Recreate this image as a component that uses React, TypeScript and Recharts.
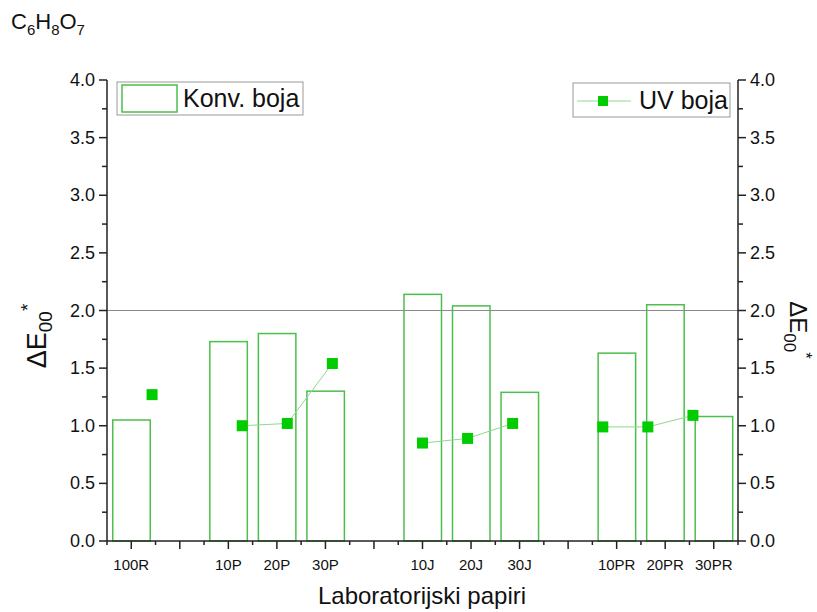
import { ComposedChart, Bar, Line, XAxis, YAxis, ReferenceLine } from "recharts";

const categories = ["100R", "", "10P", "20P", "30P", "", "10J", "20J", "30J", "", "10PR", "20PR", "30PR"];
const konvBoja = [1.05, null, 1.73, 1.8, 1.3, null, 2.14, 2.04, 1.29, null, 1.63, 2.05, 1.08];
const uvBoja = [1.27, null, 1.0, 1.02, 1.54, null, 0.85, 0.89, 1.02, null, 0.99, 0.99, 1.09];

const yTicks = [0, 0.25, 0.5, 0.75, 1, 1.25, 1.5, 1.75, 2, 2.25, 2.5, 2.75, 3, 3.25, 3.5, 3.75, 4];
const xTicks = [
  -0.5, 0, 0.5, 1, 1.5, 2, 2.5, 3, 3.5, 4, 4.5, 5, 5.5, 6, 6.5,
  7, 7.5, 8, 8.5, 9, 9.5, 10, 10.5, 11, 11.5, 12, 12.5,
];

const data = categories.map((name, i) => ({ i, name, konv: konvBoja[i], uv: uvBoja[i] }));

const FONT = "'Liberation Sans', Arial, sans-serif";
const BAR_GREEN = "#4cbf4c";
const DOT_GREEN = "#00cc00";
const LINE_GREEN = "#8fd88f";
const AXIS = "#222";

const YTick = (props: any) => {
  const { x, y, payload, side } = props;
  const major = Math.abs(payload.value * 2 - Math.round(payload.value * 2)) < 1e-6;
  const len = major ? 8 : 5;
  const dir = side === "left" ? -1 : 1;
  return (
    <g>
      <line x1={x} x2={x + dir * len} y1={y} y2={y} stroke={AXIS} strokeWidth={1.5} />
      {major && (
        <text
          x={x + dir * (len + 4)}
          y={y}
          dy={6}
          textAnchor={side === "left" ? "end" : "start"}
          fontSize={18}
          fontFamily={FONT}
          fill="#111"
        >
          {payload.value.toFixed(1)}
        </text>
      )}
    </g>
  );
};

const XTick = (props: any) => {
  const { x, y, payload } = props;
  const major = Number.isInteger(payload.value);
  const len = major ? 8 : 4;
  return (
    <g>
      <line x1={x} x2={x} y1={y} y2={y + len} stroke={AXIS} strokeWidth={1.5} />
      {major && (
        <text x={x} y={y + 29} textAnchor="middle" fontSize={15} fontFamily={FONT} fill="#111">
          {categories[payload.value]}
        </text>
      )}
    </g>
  );
};

const BarOutline = (props: any) => {
  const { x, y, width, height, payload } = props;
  if (payload == null || payload.konv == null || !height) return <g />;
  return (
    <rect x={x + 0.75} y={y} width={width - 1.5} height={height} fill="none" stroke={BAR_GREEN} strokeWidth={1.5} />
  );
};

const SquareDot = (props: any) => {
  const { cx, cy, value, index } = props;
  if (cx == null || cy == null || value == null) return <g key={`d-${index}`} />;
  return <rect key={`d-${index}`} x={cx - 5.5} y={cy - 5.5} width={11} height={11} fill={DOT_GREEN} />;
};

export default function App() {
  return (
    <div style={{ position: "absolute", left: 0, top: 0, width: 817, height: 612, background: "#fff" }}>
      <ComposedChart
        width={817}
        height={612}
        data={data}
        margin={{ top: 80, right: 19, bottom: 41, left: 47 }}
      >
        <XAxis
          xAxisId="main"
          dataKey="i"
          type="number"
          domain={[-0.5, 12.5]}
          ticks={xTicks}
          interval={0}
          tickSize={0}
          tickMargin={0}
          tickLine={false}
          tick={<XTick />}
          axisLine={{ stroke: AXIS, strokeWidth: 1.5 }}
          height={30}
        />
        <XAxis xAxisId="uv" dataKey="i" type="number" domain={[-1, 13]} hide />
        <YAxis
          yAxisId="left"
          type="number"
          domain={[0, 4]}
          ticks={yTicks}
          interval={0}
          tickSize={0}
          tickMargin={0}
          tickLine={false}
          tick={(p: any) => <YTick {...p} side="left" />}
          axisLine={{ stroke: AXIS, strokeWidth: 1.5 }}
          width={60}
        />
        <YAxis
          yAxisId="right"
          orientation="right"
          type="number"
          domain={[0, 4]}
          ticks={yTicks}
          interval={0}
          tickSize={0}
          tickMargin={0}
          tickLine={false}
          tick={(p: any) => <YTick {...p} side="right" />}
          axisLine={{ stroke: AXIS, strokeWidth: 1.5 }}
          width={60}
        />
        <ReferenceLine yAxisId="left" xAxisId="main" y={2} stroke="#8a8a8a" strokeWidth={1} />
        <Bar
          xAxisId="main"
          yAxisId="left"
          dataKey="konv"
          barSize={39}
          shape={<BarOutline />}
          isAnimationActive={false}
        />
        <Line
          xAxisId="uv"
          yAxisId="left"
          dataKey="uv"
          stroke={LINE_GREEN}
          strokeWidth={1}
          connectNulls={false}
          dot={SquareDot}
          activeDot={false}
          isAnimationActive={false}
        />
        <Line
          xAxisId="uv"
          yAxisId="right"
          dataKey="uv"
          stroke="none"
          dot={false}
          activeDot={false}
          isAnimationActive={false}
        />
      </ComposedChart>

      <svg
        width={817}
        height={612}
        style={{ position: "absolute", left: 0, top: 0, pointerEvents: "none" }}
        fontFamily={FONT}
      >
        <text x={11} y={29} fontSize={22} fill="#111">
          C<tspan dy={6} fontSize={15}>6</tspan>
          <tspan dy={-6}>H</tspan>
          <tspan dy={6} fontSize={15}>8</tspan>
          <tspan dy={-6}>O</tspan>
          <tspan dy={6} fontSize={15}>7</tspan>
        </text>

        <g>
          <rect x={117} y={82} width={186} height={33} fill="#fff" stroke="#999" strokeWidth={1} />
          <rect x={122} y={85} width={55} height={27} fill="none" stroke={BAR_GREEN} strokeWidth={1.5} />
          <text x={183} y={107} fontSize={25} fill="#111">
            Konv. boja
          </text>
        </g>

        <g>
          <rect x={573} y={83} width={157} height={34} fill="#fff" stroke="#999" strokeWidth={1} />
          <line x1={577} x2={631} y1={101} y2={101} stroke={LINE_GREEN} strokeWidth={1} />
          <rect x={598} y={96} width={10} height={10} fill={DOT_GREEN} />
          <text x={639} y={109} fontSize={25} fill="#111">
            UV boja
          </text>
        </g>

        <text x={422} y={604} textAnchor="middle" fontSize={24} fill="#111">
          Laboratorijski papiri
        </text>

        <text transform="translate(46,336) rotate(-90)" textAnchor="middle" fontSize={27} fill="#111">
          ΔE<tspan dy={6} fontSize={19}>00</tspan>
          <tspan dy={-18} fontSize={19}>*</tspan>
        </text>

        <text transform="translate(790,330) rotate(90)" textAnchor="middle" fontSize={24} fill="#111">
          ΔE<tspan dy={6} fontSize={17}>00</tspan>
          <tspan dy={-16} fontSize={17}>*</tspan>
        </text>
      </svg>
    </div>
  );
}
